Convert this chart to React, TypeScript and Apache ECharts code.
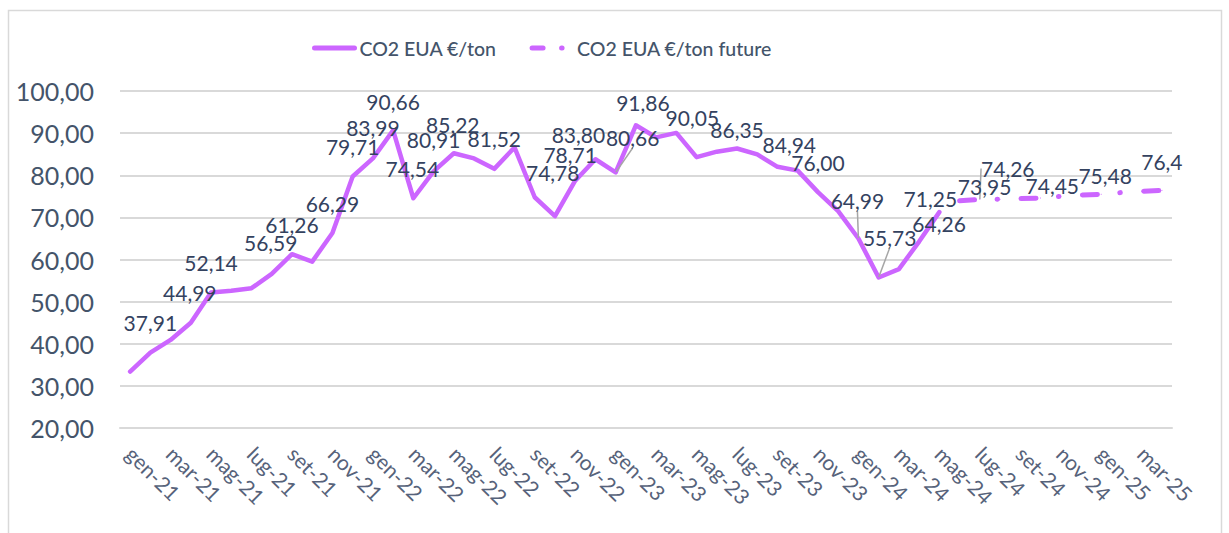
import React, { useEffect, useRef } from 'react';
import * as echarts from 'echarts';

const CATEGORIES = [
  'gen-21', 'feb-21', 'mar-21', 'apr-21', 'mag-21', 'giu-21', 'lug-21', 'ago-21', 'set-21', 'ott-21', 'nov-21', 'dic-21',
  'gen-22', 'feb-22', 'mar-22', 'apr-22', 'mag-22', 'giu-22', 'lug-22', 'ago-22', 'set-22', 'ott-22', 'nov-22', 'dic-22',
  'gen-23', 'feb-23', 'mar-23', 'apr-23', 'mag-23', 'giu-23', 'lug-23', 'ago-23', 'set-23', 'ott-23', 'nov-23', 'dic-23',
  'gen-24', 'feb-24', 'mar-24', 'apr-24', 'mag-24', 'giu-24', 'lug-24', 'ago-24', 'set-24', 'ott-24', 'nov-24', 'dic-24',
  'gen-25', 'feb-25', 'mar-25', 'apr-25',
];

// CO2 EUA €/ton (gen-21 .. mag-24)
const CO2_ACTUAL = [
  33.4, 37.91, 40.9, 44.99, 52.14, 52.6, 53.2, 56.59, 61.26, 59.5, 66.29, 79.71,
  83.99, 90.66, 74.54, 80.91, 85.22, 84.0, 81.52, 86.6, 74.78, 70.3, 78.71, 83.8,
  80.66, 91.86, 89.0, 90.05, 84.3, 85.6, 86.35, 84.94, 82.0, 81.1, 76.0, 71.5,
  64.99, 55.73, 57.7, 64.26, 71.25,
];

// CO2 EUA €/ton future (giu-24 .. apr-25)
const CO2_FUTURE = [73.95, 74.26, 74.3, 74.45, 74.6, 75.0, 75.3, 75.48, 75.9, 76.2, 76.4];

const ACTUAL_LABELS = [1, 3, 4, 7, 8, 10, 11, 12, 13, 14, 15, 16, 18, 20, 22, 23, 24, 25, 27, 30, 31, 34, 36, 37, 39, 40];
const FUTURE_LABELS = [41, 42, 44, 48, 51];
const LABEL_DECIMALS: Record<number, number> = { 51: 1 };
const LEADER_LINES = [24, 36, 37, 42];

const Y_MIN = 20;
const Y_MAX = 100;
const Y_STEP = 10;

// label placement relative to point (px)
const LABEL_SHIFT: Record<number, [number, number]> = {
  1: [0, -30], 3: [-1, -30], 4: [0, -30], 7: [-1, -31], 8: [0, -30], 10: [0, -30], 11: [0, -30],
  12: [0, -31], 13: [0, -29], 14: [-1, -30], 15: [0, -32], 16: [-1, -29], 18: [0, -30], 20: [18, -25],
  22: [-5, -26], 23: [-17, -25], 24: [17, -35], 25: [7, -23], 27: [16, -15], 30: [0, -19], 31: [32, -10],
  34: [0, -30], 36: [-1, -38], 37: [11, -40], 39: [20, -18], 40: [-9, -14], 41: [25, -14], 42: [28, -31],
  44: [32, -13], 48: [4, -19], 51: [0, -29],
};

const PURPLE = '#CC66FF';
const TEXT = '#44546A';
const LABEL_TEXT = '#34425F';
const GRID = '#D9D9D9';
const FONT = 'Lato, "Noto Sans", sans-serif';
const FUTURE_DASH = [15, 22.5, 0.5, 23.5];

const fmt = (v: number, d = 2) => v.toFixed(d).replace('.', ',');

export default function App() {
  const ref = useRef<HTMLDivElement>(null);
  useEffect(() => {
    if (!ref.current) return;
    const chart = echarts.init(ref.current, undefined, { renderer: 'svg' });

    const startFuture = CO2_ACTUAL.length;
    const actualData = CATEGORIES.map((_, i) => {
      if (i >= CO2_ACTUAL.length) return null;
      const v = CO2_ACTUAL[i];
      if (ACTUAL_LABELS.includes(i)) {
        return {
          value: v,
          label: { show: true },
          labelLine: { show: LEADER_LINES.includes(i) },
        };
      }
      return v;
    });
    const futureData = CATEGORIES.map((_, i) => {
      if (i < startFuture) return null;
      const v = CO2_FUTURE[i - startFuture];
      if (FUTURE_LABELS.includes(i)) {
        return {
          value: v,
          label: { show: true },
          labelLine: { show: LEADER_LINES.includes(i) },
        };
      }
      return v;
    });

    const labelCommon = {
      show: false,
      position: 'inside',
      color: LABEL_TEXT,
      fontSize: 21,
      fontFamily: FONT,
      formatter: (p: any) => fmt(p.value, LABEL_DECIMALS[p.dataIndex] ?? 2),
    };
    const labelLineCommon = {
      show: false,
      lineStyle: { color: '#A6A6A6', width: 1.5 },
    };
    const labelLayout = (p: any) => {
      const s = LABEL_SHIFT[p.dataIndex];
      return s ? { dx: s[0], dy: s[1] } : {};
    };

    chart.setOption({
      animation: false,
      backgroundColor: '#ffffff',
      graphic: [
        {
          type: 'rect',
          silent: true,
          z: -10,
          shape: { x: 8.5, y: 10.5, width: 1213, height: 530 },
          style: { fill: 'none', stroke: GRID, lineWidth: 1.5 },
        },
      ],
      legend: {
        left: 307,
        top: 33,
        itemWidth: 40,
        itemHeight: 20,
        itemGap: 33,
        textStyle: { color: TEXT, fontSize: 19.5, fontFamily: FONT, fontWeight: 500 },
        data: [
          {
            name: 'CO2 EUA €/ton',
            itemStyle: { opacity: 0 },
            lineStyle: { color: PURPLE, width: 5, type: 'solid', cap: 'round' },
          },
          {
            name: 'CO2 EUA €/ton future',
            itemStyle: { opacity: 0 },
            lineStyle: { color: PURPLE, width: 5, type: [11, 18.5, 0.5, 40], cap: 'round' },
          },
        ],
      },
      grid: { left: 120, right: 57, top: 91, bottom: 105 },
      xAxis: {
        type: 'category',
        data: CATEGORIES,
        boundaryGap: true,
        axisLine: { show: true, lineStyle: { color: GRID, width: 2 } },
        axisTick: { show: false },
        axisLabel: {
          interval: 1,
          rotate: -45,
          margin: 22,
          color: '#56627A',
          fontSize: 21,
          fontFamily: FONT,
        },
        splitLine: { show: false },
      },
      yAxis: {
        type: 'value',
        min: Y_MIN,
        max: Y_MAX,
        interval: Y_STEP,
        axisLine: { show: false },
        axisTick: { show: false },
        axisLabel: {
          margin: 26,
          color: TEXT,
          fontSize: 25,
          fontFamily: FONT,
          formatter: (v: number) => fmt(v),
        },
        splitLine: { lineStyle: { color: GRID, width: 2 } },
      },
      series: [
        {
          name: 'CO2 EUA €/ton',
          type: 'line',
          data: actualData,
          symbol: 'circle',
          symbolSize: 1,
          showSymbol: true,
          itemStyle: { color: PURPLE },
          lineStyle: { color: PURPLE, width: 4.5, cap: 'round', join: 'round' },
          label: labelCommon,
          labelLine: labelLineCommon,
          labelLayout,
          z: 3,
        },
        {
          name: 'CO2 EUA €/ton future',
          type: 'line',
          data: futureData,
          symbol: 'circle',
          symbolSize: 1,
          showSymbol: true,
          itemStyle: { color: PURPLE },
          lineStyle: { color: PURPLE, width: 5, type: FUTURE_DASH, cap: 'round', join: 'round' },
          label: labelCommon,
          labelLine: labelLineCommon,
          labelLayout,
          z: 3,
        },
      ],
    });
    return () => chart.dispose();
  }, []);
  return (
    <div
      ref={ref}
      style={{ position: 'absolute', left: 0, top: 0, width: 1229, height: 533, background: '#fff' }}
    />
  );
}
